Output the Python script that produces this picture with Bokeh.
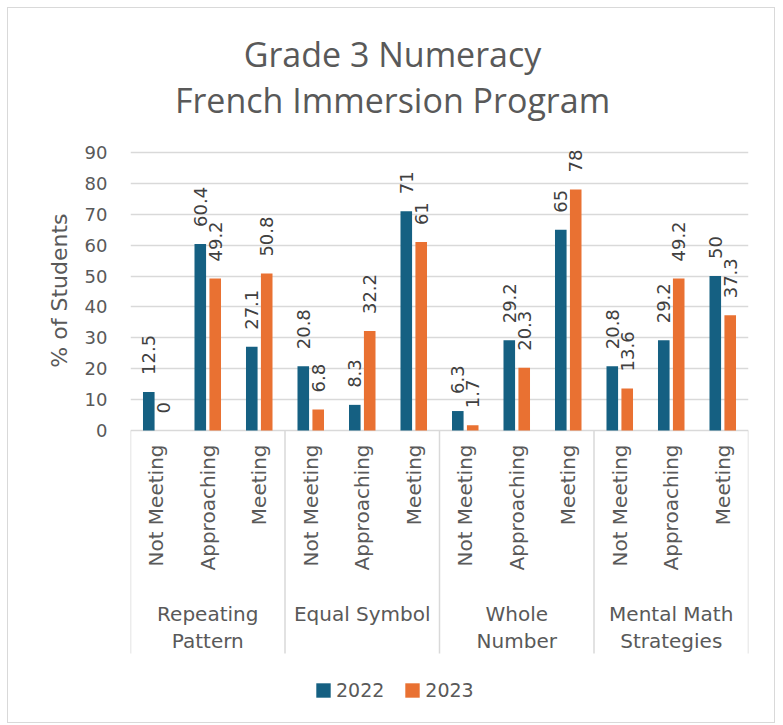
import math
from bokeh.plotting import figure
from bokeh.models import Range1d, FixedTicker, Title, Legend, LegendItem, Label
from bokeh.embed import file_html
from bokeh.resources import INLINE
from bokeh.core.properties import value

# ---- data ----
title_lines = ["Grade 3 Numeracy", "French Immersion Program"]
group_line1 = ["Repeating", "Equal Symbol", "Whole", "Mental Math"]
group_line2 = ["Pattern", "", "Number", "Strategies"]
levels = ["Not Meeting", "Approaching", "Meeting"]
years = ["2022", "2023"]
v2022 = [12.5, 60.4, 27.1, 20.8, 8.3, 71, 6.3, 29.2, 65, 20.8, 29.2, 50]
v2023 = [0, 49.2, 50.8, 6.8, 32.2, 61, 1.7, 20.3, 78, 13.6, 49.2, 37.3]
y_ticks = [0, 10, 20, 30, 40, 50, 60, 70, 80, 90]
y_label = "% of Students"

# ---- style / layout (canvas pixels) ----
TEXT = "#595959"
LABEL = "#404040"
GRID = "#D9D9D9"
BLUE = "#156082"
ORANGE = "#E97132"
FONT = "DejaVu Sans"
TITLE_FONT = "Open Sans"

W, H = 768, 716
FRAME_L, FRAME_R = 122, 740
FRAME_T, TOP_Y, ZERO_Y, FRAME_B = 12, 144, 422, 697   # frame top, y=90, y=0, frame bottom
SEP_LEN = 223
ppu = (ZERO_Y - TOP_Y) / (y_ticks[-1] - y_ticks[0])
y_start = -(FRAME_B - ZERO_Y) / ppu
y_end = y_ticks[-1] + (TOP_Y - FRAME_T) / ppu
sep_end = -SEP_LEN / ppu

n_groups = len(group_line1)
n_lv = len(levels)
n = n_groups * n_lv
idx = list(range(n))
cat_labels = levels * n_groups
bar_w = 0.225
off = 0.145
x22 = [i - off for i in idx]
x23 = [i + off for i in idx]
separators = [g * n_lv - 0.5 for g in range(n_groups + 1)]
group_centers = [g * n_lv + (n_lv - 1) / 2 for g in range(n_groups)]

p = figure(width=W, height=H,
           x_range=Range1d(-0.5, n - 0.5), y_range=Range1d(y_start, y_end),
           min_border_left=FRAME_L, min_border_right=W - FRAME_R,
           min_border_top=FRAME_T, min_border_bottom=H - FRAME_B,
           toolbar_location=None, output_backend="svg", x_axis_location=None, title=None)
p.styles = {"margin-left": "7px", "margin-top": "7px", "border": "1px solid #D9D9D9"}
p.outline_line_color = None
p.background_fill_color = "white"
p.border_fill_color = "white"

p.xgrid.grid_line_color = None
p.ygrid.ticker = FixedTicker(ticks=y_ticks)
p.ygrid.grid_line_color = GRID
p.ygrid.grid_line_width = 1.5

ya = p.yaxis[0]
ya.ticker = FixedTicker(ticks=y_ticks)
ya.axis_line_color = None
ya.major_tick_line_color = None
ya.minor_tick_line_color = None
ya.major_tick_out = 0
ya.major_tick_in = 0
ya.minor_tick_out = 0
ya.major_label_standoff = 23
ya.major_label_text_font = FONT
ya.major_label_text_font_size = "18px"
ya.major_label_text_color = TEXT

# y axis title, centred on the 0..90 span
p.add_layout(Title(text=y_label, align="right", offset=193, standoff=19,
                   text_font=FONT, text_font_size="22px", text_font_style="normal",
                   text_color=TEXT), "left")

# chart title (two centred lines)
for txt, base in zip(title_lines, (45, 91)):
    p.add_layout(Label(x=262, y=FRAME_B - base, x_units="screen", y_units="screen",
                       text=txt, text_align="center", text_baseline="alphabetic",
                       text_font=TITLE_FONT, text_font_size="34px", text_color=TEXT))

# group separators (category axis)
p.segment(x0=separators, y0=[0] * len(separators), x1=separators,
          y1=[sep_end] * len(separators), line_color=GRID, line_width=1.5)

r22 = p.vbar(x=x22, top=v2022, width=bar_w, fill_color=BLUE, line_color=None)
r23 = p.vbar(x=x23, top=v2023, width=bar_w, fill_color=ORANGE, line_color=None)

for xs, vs in ((x22, v2022), (x23, v2023)):
    p.text(x=xs, y=vs, text=[f"{v:g}" for v in vs], angle=math.pi / 2,
           text_align="left", text_baseline="middle", y_offset=-17,
           text_font=value(FONT), text_font_size="18px", text_color=LABEL)

# category labels
p.text(x=idx, y=[0] * n, text=cat_labels, angle=math.pi / 2,
       text_align="right", text_baseline="middle", y_offset=14,
       text_font=value(FONT), text_font_size="20px", text_color=TEXT)

# group labels (two lines)
for lines, yoff in ((group_line1, 183), (group_line2, 210)):
    p.text(x=group_centers, y=[0] * n_groups, text=lines,
           text_align="center", text_baseline="alphabetic", y_offset=yoff,
           text_font=value(FONT), text_font_size="20px", text_color=TEXT)

legend = Legend(items=[LegendItem(label=years[0], renderers=[r22]),
                       LegendItem(label=years[1], renderers=[r23])],
                orientation="horizontal", location=(184, 4),
                glyph_width=18, glyph_height=18, label_standoff=4, spacing=19,
                padding=0, margin=0, border_line_color=None, background_fill_color=None,
                label_text_font=FONT, label_text_font_size="19px", label_text_color=TEXT)
p.add_layout(legend, "center")

open("out.html", "w").write(file_html(p, INLINE))
